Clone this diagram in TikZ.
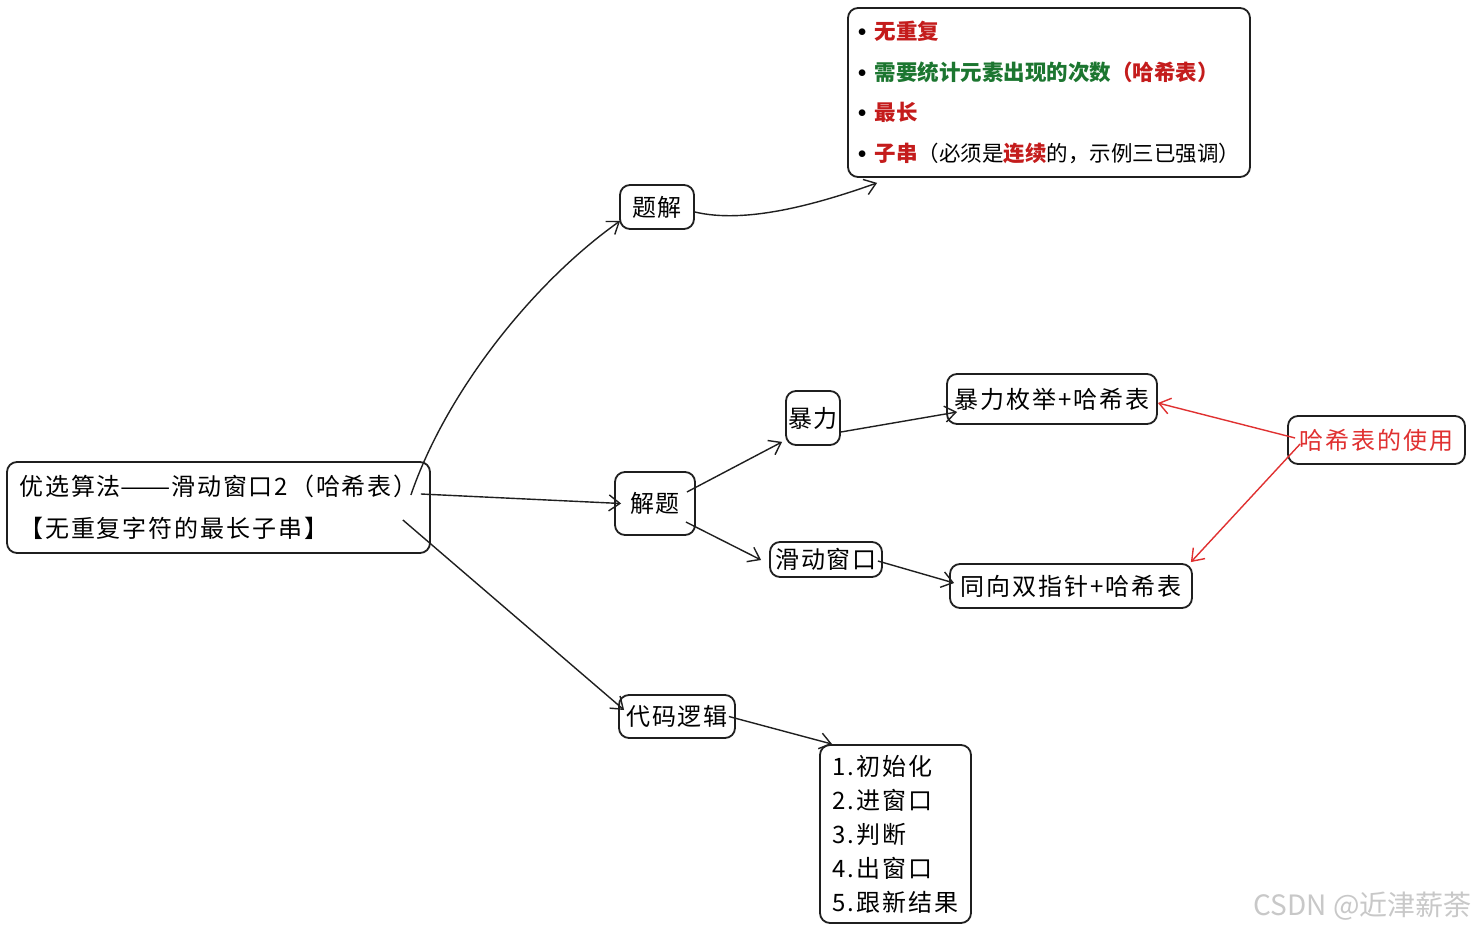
\documentclass[tikz,border=0pt]{standalone}
\usepackage{fontspec}
\usepackage{graphicx}
\setmainfont{Noto Sans CJK SC}
\newfontfamily\handfam[LetterSpace=8]{Noto Sans CJK SC}
\usetikzlibrary{arrows.meta,calc}
\definecolor{tred}{RGB}{196,28,28}
\definecolor{tgreen}{RGB}{28,118,48}
\definecolor{xred}{RGB}{224,49,49}
\definecolor{wmgray}{RGB}{200,200,200}
\newcommand\hf{\handfam\fontsize{24}{42}\selectfont}
\newcommand\listf{\handfam\fontsize{24}{34}\selectfont}
\newcommand\topf{\fontsize{21.5}{40.5}\selectfont}
\newcommand\bul{\makebox[17pt][l]{\raisebox{3pt}{\fontsize{17}{17}\selectfont$\bullet$}}}
\begin{document}
\begin{tikzpicture}[x=1pt,y=-1pt,
  box/.style={draw=black!88, line width=1.8pt, rounded corners=10pt, inner sep=0pt, font=\hf},
  conn/.style={draw=black!88, line width=1.4pt, -{Straight Barb[length=11pt,width=16pt]}},
  redconn/.style={conn, draw=xred}]
\useasboundingbox (0,0) rectangle (1476,932);
\fill[white] (0,0) rectangle (1476,932);

% nodes
\node[box, minimum width=423pt, minimum height=91pt, align=left] (main) at (218.5,507.5)
  {优选算法\scalebox{1.25}[1]{——}滑动窗口2（哈希表）\\【无重复字符的最长子串】};
\node[box, minimum width=74pt, minimum height=44pt] (tijie) at (657,207) {题解};
\node[box, minimum width=402pt, minimum height=169pt, align=left, font=\topf] (tb) at (1049,92.5)
  {\bul\textcolor{tred}{\bfseries 无重复}\\
   \bul\textcolor{tgreen}{\bfseries 需要统计元素出现的次数}\textcolor{tred}{\bfseries（哈希表）}\\
   \bul\textcolor{tred}{\bfseries 最长}\\
   \bul\textcolor{tred}{\bfseries 子串}（必须是\textcolor{tred}{\bfseries 连续}的，示例三已强调）};
\node[box, minimum width=80pt, minimum height=63pt] (jieti) at (655,503.5) {解题};
\node[box, minimum width=54pt, minimum height=54pt] (baoli) at (813,418) {暴力};
\node[box, minimum width=112pt, minimum height=35pt] (hd) at (826,559.5) {滑动窗口};
\node[box, minimum width=210pt, minimum height=50pt] (bm) at (1052,399) {暴力枚举+哈希表};
\node[box, minimum width=242pt, minimum height=44pt] (tx) at (1071,586) {同向双指针+哈希表};
\node[box, minimum width=177pt, minimum height=48pt, text=xred] (hx) at (1376.5,440) {哈希表的使用};
\node[box, minimum width=116pt, minimum height=43pt] (daima) at (677,716.5) {代码逻辑};
\node[box, minimum width=151pt, minimum height=178pt, align=left, font=\listf] (list) at (895.5,834)
  {1.初始化\\2.进窗口\\3.判断\\4.出窗口\\5.跟新结果};
\node[font=\fontsize{28}{28}\selectfont, text=wmgray, anchor=east, inner sep=0pt] (wm) at (1472,906) {CSDN @近津薪荼};

% connectors
\draw[conn] ($(main.east)+(-20,-12.5)$) .. controls (445,395) and (530,285) .. ($(tijie.south west)+(1,-9)$);
\draw[conn] ($(tijie.east)+(0,5)$) .. controls (745,224) and (815,205) .. ($(tb.south west)+(30,5)$);
\draw[conn] ($(main.east)+(-10,-13.5)$) -- ($(jieti.west)+(7,0)$);
\draw[conn] ($(main.east)+(-28,12.5)$) -- ($(daima.west)+(6,-6.5)$);
\draw[conn] ($(jieti.east)+(-9,-11.5)$) -- ($(baoli.south west)+(-3,-4)$);
\draw[conn] ($(jieti.east)+(-10,18.5)$) -- ($(hd.west)+(-8,0.5)$);
\draw[conn] ($(baoli.east)+(0,14)$) -- ($(bm.west)+(11,13)$);
\draw[conn] ($(hd.east)+(-5,1.5)$) -- ($(tx.west)+(5,-3)$);
\draw[conn] ($(daima.east)+(-7,0)$) -- ($(list.north west)+(13,0)$);
\draw[redconn] ($(hx.west)+(8,-2)$) -- ($(bm.east)+(0,4)$);
\draw[redconn] ($(hx.west)+(13,4)$) -- ($(tx.north east)+(-2,-1)$);
\end{tikzpicture}
\end{document}
